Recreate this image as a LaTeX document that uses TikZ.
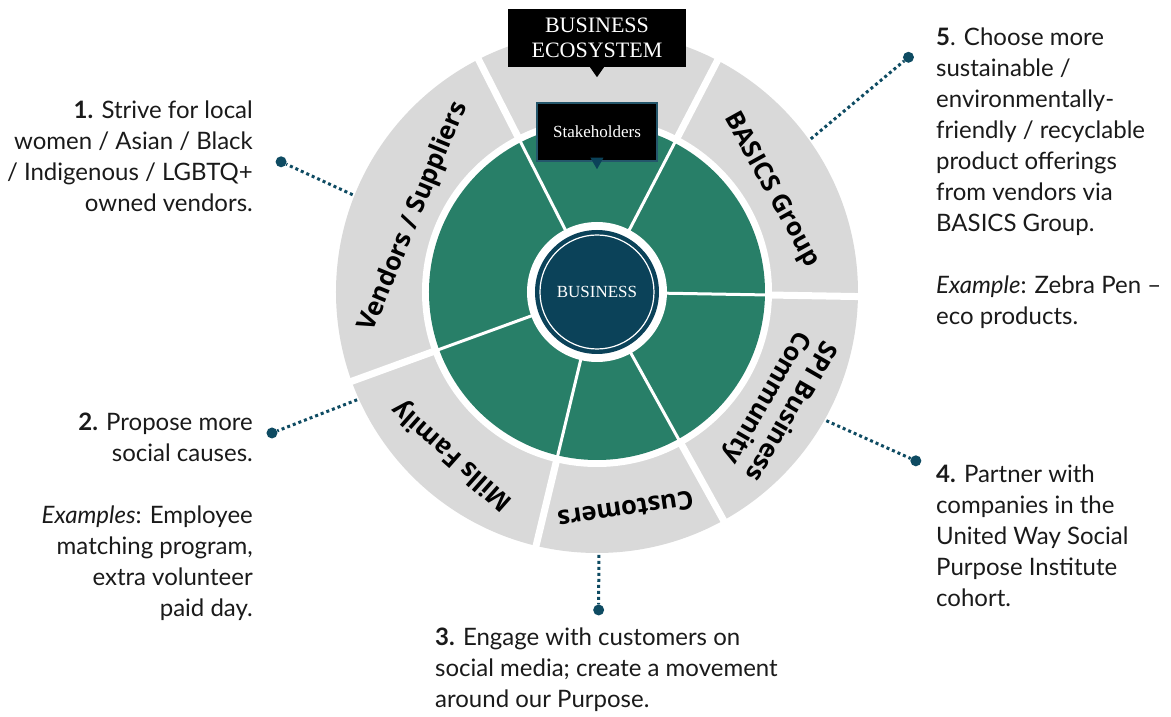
\documentclass[tikz,border=0pt]{standalone}
\usepackage{fontspec}
\setmainfont{Lato}
\newfontfamily\serifface{Liberation Serif}
\newfontfamily\ringface{Open Sans}
\definecolor{ring}{HTML}{D9D9D9}
\definecolor{leaf}{HTML}{287F68}
\definecolor{navy}{HTML}{0B4259}
\definecolor{pin}{HTML}{0E4B62}
\definecolor{ink}{HTML}{1A1A1A}
\definecolor{edge}{HTML}{24566B}
\tikzset{
 ringlabel/.style={font=\ringface\bfseries\fontsize{25.5}{28}\selectfont,align=center,inner sep=0pt},
 note/.style={font=\fontsize{24}{31}\selectfont,text=ink,inner sep=0pt},
 tag/.style={fill=black,text=white,align=center,inner sep=0pt},
 leader/.style={draw=pin,line width=3pt,dash pattern=on 3pt off 3pt},
 pindot/.style={circle,fill=pin,minimum size=11pt,inner sep=0pt}
}

\begin{document}
\begin{tikzpicture}[x=1pt,y=1pt]
  \useasboundingbox (-597,-425) rectangle (574,292);

  \fill[ring] (0,0) circle[radius=261pt];
  \fill[white] (0,0) circle[radius=175pt];
  \fill[leaf] (0,0) circle[radius=168pt];
  \foreach \a in {62.5,117,200,256.5,299,359}{
    \draw[white,line width=7pt] (\a:170) -- (\a:266);
    \draw[white,line width=3pt] (0,0) -- (\a:170);
  }
  \fill[white] (0,0) circle[radius=70pt];
  \node[circle,fill=navy,minimum size=124pt,inner sep=0pt,text=white,font=\serifface\fontsize{17}{20}\selectfont] (core) at (0,0) {BUSINESS};
  \draw[white,line width=1.2pt] (core.center) circle[radius=57pt];

  \foreach \ang/\rad/\rot/\txt [count=\i] in {157.7/198/67.5/{Vendors / Suppliers}, 30.3/202/-61/{BASICS Group}, -31.7/213/-120/{SPI Business\\Community}, -82.5/220/-171.5/{Customers}, -131.5/218/138.5/{Mills Family}}
    \node[ringlabel,rotate=\rot] (seg\i) at (\ang:\rad) {\txt};

  \node[tag,minimum width=178pt,minimum height=58pt,font=\serifface\fontsize{22}{25}\selectfont] (eco) at (0,254) {BUSINESS\\ECOSYSTEM};
  \fill[black] ([xshift=-7pt]eco.south) -- ([xshift=7pt]eco.south) -- ([yshift=-10pt]eco.south) -- cycle;

  \node[tag,draw=edge,line width=1.5pt,minimum width=120pt,minimum height=58pt,font=\serifface\fontsize{17}{20}\selectfont] (stake) at (0,160) {Stakeholders};
  \fill[navy] ([xshift=-6.5pt,yshift=4pt]stake.south) -- ([xshift=6.5pt,yshift=4pt]stake.south) -- ([yshift=-7.5pt]stake.south) -- cycle;

  \foreach \i/\a/\b/\r in {1/158.3/157.6/341.7, 2/204.2/203.45/354.3, 3/270.4/270.3/318, 4/-29.3/-27.9/360.8, 5/35.6/37/390}{
    \coordinate (rim\i) at (\a:263);
    \node[pindot] (dot\i) at (\b:\r) {};
    \draw[leader] (rim\i) -- (dot\i);
  }

  \node[note,anchor=north east,align=right] (note1) at (-344,191.5) {\textbf{1.} Strive for local\\women / Asian / Black\\/ Indigenous / LGBTQ+\\owned vendors.};
  \node[note,anchor=north east,align=right] (note2) at (-344,-120.5) {\textbf{2.} Propose more\\social causes.\\[31pt]\textit{Examples}: Employee\\matching program,\\extra volunteer\\paid day.};
  \node[note,anchor=north west,align=left] (note3) at (-162,-335.5) {\textbf{3.} Engage with customers on\\social media; create a movement\\around our Purpose.};
  \node[note,anchor=north west,align=left] (note4) at (339,-172.5) {\textbf{4.} Partner with\\companies in the\\United Way Social\\Purpose Institute\\cohort.};
  \node[note,anchor=north west,align=left] (note5) at (339,264.5) {\textbf{5}. Choose more\\sustainable /\\environmentally-\\friendly / recyclable\\product offerings\\from vendors via\\BASICS Group.\\[31pt]\textit{Example}: Zebra Pen --\\eco products.};
\end{tikzpicture}
\end{document}
